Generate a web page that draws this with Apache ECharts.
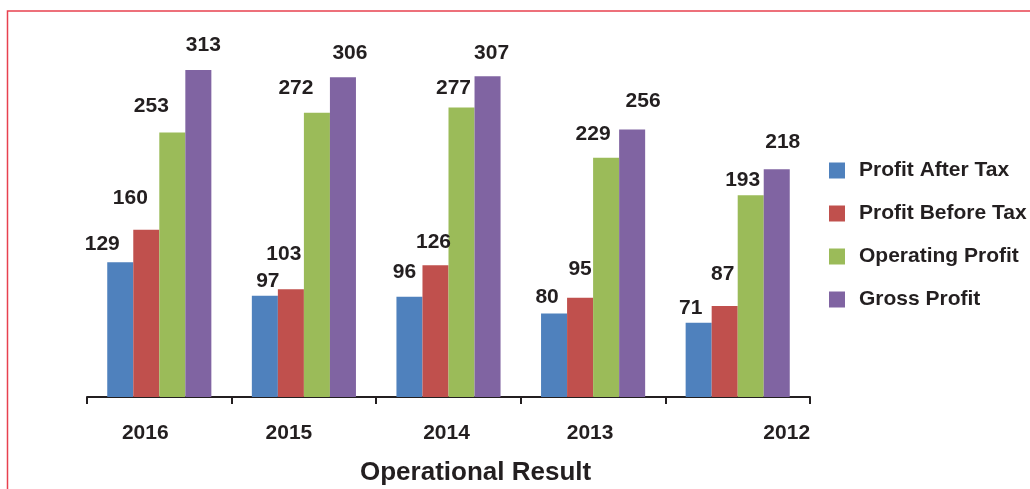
<!DOCTYPE html>
<html>
<head>
<meta charset="utf-8">
<script src="https://cdn.jsdelivr.net/npm/echarts@6/dist/echarts.min.js"></script>
<style>
  html, body { margin: 0; padding: 0; background: #fff; }
  #main { width: 1030px; height: 489px; }
</style>
</head>
<body>
<div id="main"></div>
<script>
// data
var years = ['2016', '2015', '2014', '2013', '2012'];
var profitAfterTax = [129, 97, 96, 80, 71];
var profitBeforeTax = [160, 103, 126, 95, 87];
var operatingProfit = [253, 272, 277, 229, 193];
var grossProfit = [313, 306, 307, 256, 218];

// label nudges (layout only, px)
var nudgeAfterTax = [[-18, -2], [3, 1], [-5, -9], [-7, -1], [-8, 1]];
var nudgeBeforeTax = [[-16, -16], [-7, -20], [-2, -8], [0, -13], [-2, -16]];
var nudgeOperating = [[-21, -11], [-21, -9], [-8, -4], [-13, -8], [-8, 0]];
var nudgeGross = [[5, -9], [7, -9], [4, -7], [11, -13], [6, -11]];
var yearShift = [-14, -15, -2, -3, 49];

var ink = '#231f20';
var font = 'Liberation Sans, Arial, sans-serif';

function withNudges(values, nudges) {
    return values.map(function (v, i) {
        return { value: v, label: { offset: nudges[i] } };
    });
}

function barSeries(name, color, values, nudges) {
    return {
        name: name,
        type: 'bar',
        barGap: 0,
        barCategoryGap: '28%',
        itemStyle: { color: color },
        label: {
            show: true,
            position: 'top',
            distance: 5,
            color: ink,
            fontFamily: font,
            fontWeight: 'bold',
            fontSize: 21
        },
        data: withNudges(values, nudges)
    };
}

var rich = {};
yearShift.forEach(function (s, i) {
    rich['y' + i] = {
        fontFamily: font,
        fontWeight: 'bold',
        fontSize: 21,
        color: ink,
        padding: s < 0 ? [0, -2 * s, 0, 0] : [0, 0, 0, 2 * s]
    };
});

var myChart = echarts.init(document.getElementById('main'));

var option = {
    animation: false,
    backgroundColor: '#fff',
    graphic: [{
        type: 'rect',
        shape: { x: 7.5, y: 11, width: 1040, height: 500 },
        style: { fill: 'none', stroke: '#e8414f', lineWidth: 1.5 },
        silent: true
    }],
    title: {
        text: 'Operational Result',
        left: 355,
        top: 455,
        textStyle: {
            fontFamily: font,
            fontWeight: 'bold',
            fontSize: 26,
            color: ink
        }
    },
    legend: {
        orient: 'vertical',
        left: 824,
        top: 155,
        itemWidth: 16,
        itemHeight: 16,
        itemGap: 22,
        icon: 'rect',
        textStyle: {
            fontFamily: font,
            fontWeight: 'bold',
            fontSize: 21,
            lineHeight: 20,
            color: ink,
            padding: [0, 0, 0, 9]
        },
        data: ['Profit After Tax', 'Profit Before Tax', 'Operating Profit', 'Gross Profit']
    },
    grid: {
        left: 87,
        right: 220,
        top: 31.25,
        bottom: 92
    },
    xAxis: {
        type: 'category',
        data: years,
        axisLine: { lineStyle: { color: ink, width: 2 } },
        axisTick: { show: true, length: 7, lineStyle: { color: ink, width: 2 } },
        axisLabel: {
            margin: 26,
            formatter: function (v, i) { return '{y' + i + '|' + v + '}'; },
            rich: rich
        }
    },
    yAxis: {
        type: 'value',
        min: 0,
        max: 350,
        show: false,
        splitLine: { show: false }
    },
    series: [
        barSeries('Profit After Tax', '#4f81bd', profitAfterTax, nudgeAfterTax),
        barSeries('Profit Before Tax', '#c0504d', profitBeforeTax, nudgeBeforeTax),
        barSeries('Operating Profit', '#9bbb59', operatingProfit, nudgeOperating),
        barSeries('Gross Profit', '#8064a2', grossProfit, nudgeGross)
    ]
};

myChart.setOption(option);
</script>
</body>
</html>
